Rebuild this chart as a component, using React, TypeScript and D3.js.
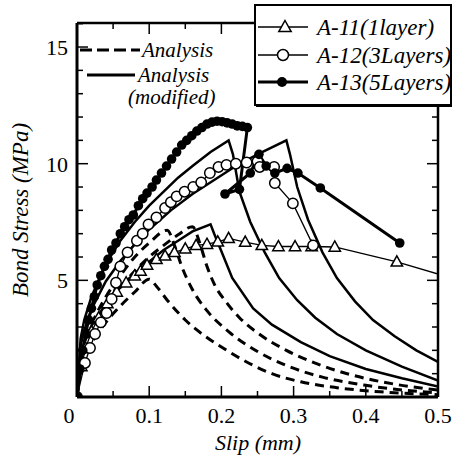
import React from "react";
import * as d3 from "d3";

type P = [number, number];

// ---- axis ticks ----
const X_TICKS = [0, 0.1, 0.2, 0.3, 0.4, 0.5];
const X_LABELS = ["0", "0.1", "0.2", "0.3", "0.4", "0.5"];
const Y_TICKS = [5, 10, 15];
const Y_LABELS = ["5", "10", "15"];

// ---- test data (slip mm, bond stress MPa) ----
const A11: P[] = [
  [0, 0], [0.006, 1.3], [0.012, 2.1], [0.02, 2.8], [0.03, 3.4], [0.042, 4.0], [0.055, 4.5],
  [0.068, 4.9], [0.08, 5.2], [0.088, 5.4], [0.097, 5.66], [0.11, 5.9], [0.122, 6.05],
  [0.135, 6.2], [0.15, 6.35], [0.165, 6.5], [0.18, 6.55], [0.195, 6.65], [0.21, 6.8],
  [0.233, 6.64], [0.256, 6.5], [0.279, 6.45], [0.302, 6.45], [0.325, 6.45], [0.357, 6.43],
  [0.443, 5.79], [0.53, 5.0],
];
const A12: P[] = [
  [0, 0], [0.011, 1.46], [0.018, 2.1], [0.025, 2.7], [0.033, 3.2], [0.041, 3.6], [0.048, 4.2],
  [0.054, 4.9], [0.06, 5.6], [0.07, 6.2], [0.083, 6.7], [0.091, 7.0], [0.099, 7.4],
  [0.11, 7.7], [0.122, 8.1], [0.13, 8.35], [0.138, 8.6], [0.149, 8.8], [0.161, 9.0],
  [0.172, 9.2], [0.184, 9.6], [0.196, 9.86], [0.207, 9.95], [0.22, 10.0], [0.235, 10.05],
  [0.25, 10.1], [0.253, 9.86], [0.273, 9.86], [0.274, 9.17], [0.299, 8.3], [0.327, 6.5],
];
const A13: P[] = [
  [0, 0], [0.004, 1.2], [0.008, 2.0], [0.012, 2.7], [0.016, 3.3], [0.02, 3.8], [0.024, 4.3],
  [0.028, 4.8], [0.033, 5.2], [0.038, 5.6], [0.043, 5.9], [0.048, 6.3], [0.054, 6.6],
  [0.06, 7.0], [0.066, 7.3], [0.072, 7.6], [0.078, 7.8], [0.085, 8.2], [0.091, 8.5],
  [0.097, 8.74], [0.104, 9.0], [0.11, 9.3], [0.117, 9.6], [0.124, 9.9], [0.131, 10.2],
  [0.138, 10.5], [0.145, 10.8], [0.152, 11.0], [0.159, 11.2], [0.166, 11.4], [0.173, 11.55],
  [0.18, 11.7], [0.187, 11.78], [0.194, 11.82], [0.201, 11.8], [0.208, 11.75], [0.215, 11.7],
  [0.222, 11.62], [0.229, 11.6], [0.236, 11.55], [0.225, 8.9], [0.205, 8.7], [0.24, 9.6],
  [0.252, 10.4], [0.262, 9.9], [0.274, 9.6], [0.291, 9.8], [0.306, 9.6], [0.337, 8.96],
  [0.447, 6.6],
];

// ---- analysis curves ----
const DASH1: P[] = [
  [0, 0], [0.005, 1.2], [0.01, 1.7], [0.02, 2.3], [0.04, 3.2], [0.06, 3.9], [0.08, 4.5], [0.1, 5.05],
  [0.11, 4.75], [0.125, 4.15], [0.15, 3.3], [0.18, 2.55], [0.21, 1.95], [0.235, 1.5], [0.27, 1.0],
  [0.31, 0.65], [0.36, 0.4], [0.42, 0.22], [0.5, 0.1],
];
const DASH2: P[] = [
  [0, 0], [0.01, 2.3], [0.02, 3.1], [0.04, 4.3], [0.06, 5.2], [0.08, 6.0], [0.1, 6.6], [0.125, 7.15],
  [0.135, 6.5], [0.145, 5.6], [0.16, 4.6], [0.18, 3.7], [0.21, 2.8], [0.25, 1.95], [0.29, 1.35],
  [0.34, 0.85], [0.4, 0.5], [0.45, 0.3], [0.5, 0.18],
];
const DASH3: P[] = [
  [0, 0], [0.01, 2.0], [0.02, 2.8], [0.04, 3.9], [0.06, 4.7], [0.08, 5.4], [0.1, 6.0], [0.12, 6.5],
  [0.14, 6.95], [0.16, 7.3], [0.17, 6.6], [0.18, 5.6], [0.19, 4.85], [0.207, 4.05], [0.225, 3.4],
  [0.25, 2.75], [0.29, 2.0], [0.33, 1.45], [0.38, 0.95], [0.44, 0.55], [0.5, 0.3],
];
const SOLID1: P[] = [
  [0, 0], [0.005, 1.75], [0.01, 2.3], [0.02, 3.05], [0.04, 4.0], [0.06, 4.75], [0.08, 5.3],
  [0.1, 5.8], [0.12, 6.3], [0.14, 6.7], [0.16, 7.1], [0.185, 7.4],
  [0.19, 7.0], [0.198, 6.4], [0.215, 5.1], [0.244, 3.8], [0.27, 3.1], [0.31, 2.35], [0.35, 1.75],
  [0.4, 1.2], [0.45, 0.8], [0.5, 0.45],
];
const SOLID2: P[] = [
  [0, 0], [0.005, 2.5], [0.01, 3.3], [0.02, 4.3], [0.04, 5.7], [0.06, 6.7], [0.08, 7.5],
  [0.1, 8.2], [0.12, 8.8], [0.14, 9.4], [0.16, 9.9], [0.185, 10.5], [0.21, 11.0],
  [0.216, 10.4], [0.225, 8.8], [0.24, 7.5], [0.26, 6.2], [0.28, 5.1], [0.305, 4.15],
  [0.33, 3.4], [0.36, 2.7], [0.4, 2.0], [0.45, 1.3], [0.5, 0.7],
];
const SOLID3: P[] = [
  [0, 0], [0.005, 2.2], [0.01, 2.85], [0.02, 3.76], [0.04, 4.96], [0.06, 5.83], [0.08, 6.54],
  [0.1, 7.18], [0.13, 8.0], [0.16, 8.7], [0.19, 9.3], [0.22, 9.9], [0.25, 10.4], [0.29, 11.0],
  [0.295, 10.4], [0.305, 9.0], [0.32, 7.6], [0.34, 6.2], [0.36, 5.1], [0.385, 4.1],
  [0.41, 3.3], [0.44, 2.6], [0.47, 2.0], [0.5, 1.5],
];
const DASHED = [DASH1, DASH2, DASH3];
const SOLIDS = [SOLID1, SOLID2, SOLID3];

const FONT = "Liberation Serif, DejaVu Serif, Liberation Sans, serif";

const L = 77, R = 438, T = 23, B = 397;

export default function App() {
  const x = d3.scaleLinear().domain([0, 0.5]).range([L, R]);
  const y = d3.scaleLinear().domain([0, 16.03]).range([B, T]);
  const smooth = d3.line<P>().x(d => x(d[0])).y(d => y(d[1])).curve(d3.curveMonotoneX);
  const straight = d3.line<P>().x(d => x(d[0])).y(d => y(d[1]));

  const xMinor = d3.range(0, 0.5001, 0.05);
  const yMinor = d3.range(0, 16.01, 1);

  const tri = (cx: number, cy: number, s = 6) =>
    `M${cx},${cy - s}L${cx + s * 0.95},${cy + s * 0.7}L${cx - s * 0.95},${cy + s * 0.7}Z`;

  const ts = { fontFamily: FONT } as React.CSSProperties;
  const its = { fontFamily: FONT, fontStyle: "italic" } as React.CSSProperties;

  return (
    <svg width={452} height={468} style={{ position: "absolute", left: 0, top: 0, background: "#fff" }}>
      <defs>
        <clipPath id="plot">
          <rect x={L} y={T} width={R - L} height={B - T} />
        </clipPath>
      </defs>
      <rect x={0} y={0} width={452} height={468} fill="#fff" />

      {/* analysis curves */}
      <g clipPath="url(#plot)" fill="none" stroke="#000">
        {DASHED.map((c, i) => (
          <path key={"d" + i} d={smooth(c) || ""} strokeWidth={3} strokeDasharray="9,6" />
        ))}
        {SOLIDS.map((c, i) => (
          <path key={"s" + i} d={straight(c) || ""} strokeWidth={2.5} strokeLinejoin="miter" />
        ))}
      </g>

      {/* experimental data */}
      <g clipPath="url(#plot)">
        <path d={straight(A11) || ""} fill="none" stroke="#000" strokeWidth={1.3} />
        <path d={straight(A12) || ""} fill="none" stroke="#000" strokeWidth={1.3} />
        <path d={straight(A13) || ""} fill="none" stroke="#000" strokeWidth={3} />
        {A11.map((d, i) => (
          <path key={"t" + i} d={tri(x(d[0]), y(d[1]))} fill="#fff" stroke="#000" strokeWidth={1.5} />
        ))}
        {A12.map((d, i) => (
          <circle key={"o" + i} cx={x(d[0])} cy={y(d[1])} r={5.2} fill="#fff" stroke="#000" strokeWidth={1.5} />
        ))}
        {A13.map((d, i) => (
          <circle key={"f" + i} cx={x(d[0])} cy={y(d[1])} r={4.8} fill="#000" />
        ))}
      </g>

      {/* frame */}
      <g stroke="#000" fill="none">
        <line x1={L} y1={B} x2={R} y2={B} strokeWidth={3} />
        <line x1={L} y1={T} x2={L} y2={B} strokeWidth={3} />
        <line x1={R} y1={T} x2={R} y2={B} strokeWidth={2.5} />
        <line x1={L} y1={T} x2={R} y2={T} strokeWidth={2.5} />
        {xMinor.map((v, i) => {
          const major = i % 2 === 0;
          const len = major ? 11 : 6;
          return (
            <g key={"xt" + i}>
              <line x1={x(v)} x2={x(v)} y1={B} y2={B - len} strokeWidth={1.5} />
              <line x1={x(v)} x2={x(v)} y1={T} y2={T + len} strokeWidth={1.5} />
            </g>
          );
        })}
        {yMinor.map((v, i) => {
          const major = i % 5 === 0;
          const len = major ? 11 : 6;
          return (
            <g key={"yt" + i}>
              <line x1={L} x2={L + len} y1={y(v)} y2={y(v)} strokeWidth={1.5} />
              <line x1={R} x2={R - len} y1={y(v)} y2={y(v)} strokeWidth={1.5} />
            </g>
          );
        })}
      </g>

      {/* tick labels */}
      {X_TICKS.map((v, i) => (
        <text key={"xl" + i} x={x(v) + (i === 0 ? -8 : 0)} y={423} textAnchor="middle" fontSize={22} style={ts}>
          {X_LABELS[i]}
        </text>
      ))}
      {Y_TICKS.map((v, i) => (
        <text key={"yl" + i} x={68} y={y(v) + 8} textAnchor="end" fontSize={22} style={ts}>
          {Y_LABELS[i]}
        </text>
      ))}

      {/* axis titles */}
      <text x={258} y={450} textAnchor="middle" fontSize={22} style={its}>Slip (mm)</text>
      <text transform={`translate(28,${210}) rotate(-90)`} textAnchor="middle" fontSize={23} style={its}>
        Bond Stress (MPa)
      </text>

      {/* left legend */}
      <line x1={80} x2={140} y1={50} y2={50} stroke="#000" strokeWidth={3} strokeDasharray="12,5" />
      <text x={142} y={57} fontSize={21} style={its}>Analysis</text>
      <line x1={87} x2={135} y1={75} y2={75} stroke="#000" strokeWidth={3} />
      <text x={138} y={82} fontSize={21} style={its}>Analysis</text>
      <text x={128} y={104} fontSize={21} style={its}>(modified)</text>

      {/* right legend box */}
      <rect x={255} y={5} width={196} height={100} fill="#fff" stroke="#000" strokeWidth={2} />
      <line x1={256} x2={452} y1={106} y2={106} stroke="#000" strokeWidth={2} />
      <line x1={258} x2={308} y1={27} y2={27} stroke="#000" strokeWidth={1.3} />
      <path d={tri(285, 27, 6.5)} fill="#fff" stroke="#000" strokeWidth={1.5} />
      <text x={317} y={35} fontSize={23} style={its}>A-11(1layer)</text>
      <line x1={258} x2={308} y1={55} y2={55} stroke="#000" strokeWidth={1.3} />
      <circle cx={283} cy={55} r={5.5} fill="#fff" stroke="#000" strokeWidth={1.5} />
      <text x={317} y={63} fontSize={23} style={its}>A-12(3Layers)</text>
      <line x1={258} x2={308} y1={82} y2={82} stroke="#000" strokeWidth={3} />
      <circle cx={282} cy={82} r={5} fill="#000" />
      <text x={317} y={90} fontSize={23} style={its}>A-13(5Layers)</text>
    </svg>
  );
}
